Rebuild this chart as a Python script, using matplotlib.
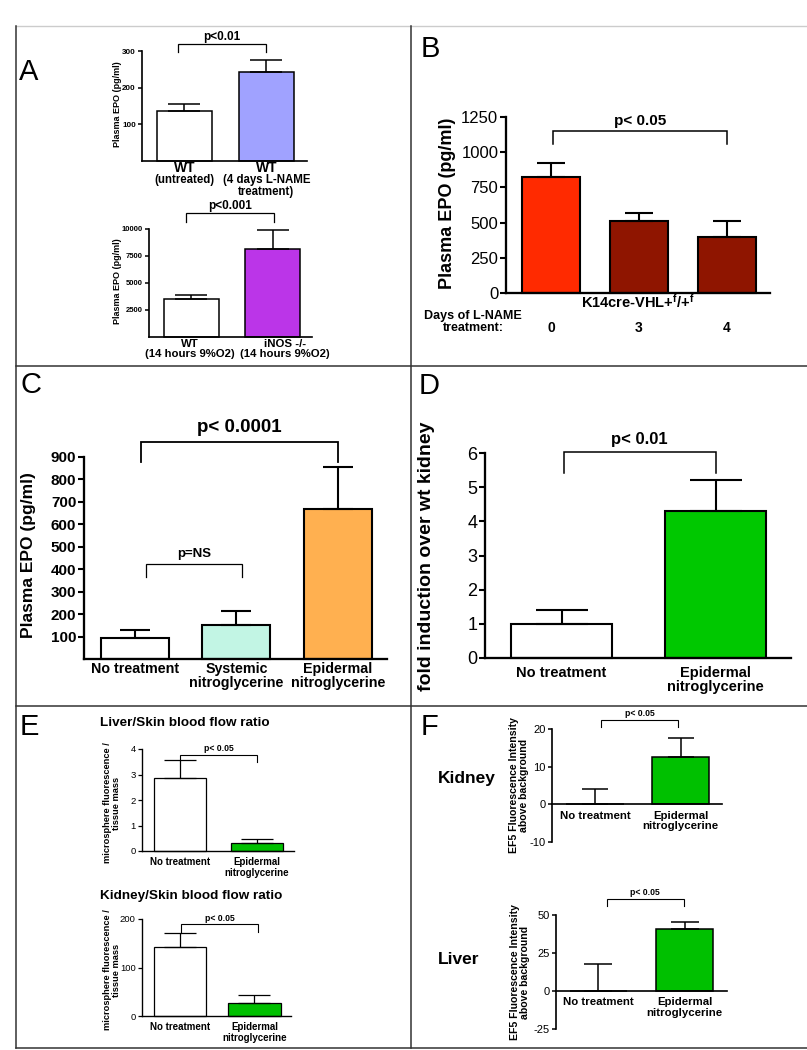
import numpy as np
import matplotlib
matplotlib.use("Agg")
import matplotlib.pyplot as plt
from matplotlib.lines import Line2D
import matplotlib.transforms as mtransforms

plt.rcParams['font.family'] = ['Liberation Sans', 'DejaVu Sans']
plt.rcParams['mathtext.fontset'] = 'custom'
plt.rcParams['mathtext.rm'] = 'Liberation Sans'
plt.rcParams['mathtext.it'] = 'Liberation Sans:italic'
plt.rcParams['mathtext.bf'] = 'Liberation Sans:bold'
plt.rcParams['axes.unicode_minus'] = False

# ---------------- data ----------------
a1_labels = ['WT\n(untreated)', 'WT\n(4 days L-NAME\ntreatment)']
a1_vals = [137, 243]
a1_err = [18, 33]
a1_colors = ['white', '#a0a2ff']

a2_labels = ['WT\n(14 hours 9%O2)', 'iNOS -/-\n(14 hours 9%O2)']
a2_vals = [3480, 8150]
a2_err = [420, 1750]
a2_colors = ['white', '#bb35e8']

b_days = ['0', '3', '4']
b_vals = [825, 510, 400]
b_err = [100, 55, 110]
b_colors = ['#ff2a00', '#8f1500', '#8f1500']

c_labels = ['No treatment', 'Systemic\nnitroglycerine', 'Epidermal\nnitroglycerine']
c_vals = [95, 153, 670]
c_err = [35, 62, 185]
c_colors = ['white', '#c2f5e4', '#ffb050']

d_labels = ['No treatment', 'Epidermal\nnitroglycerine']
d_vals = [1.0, 4.3]
d_err = [0.4, 0.9]
d_colors = ['white', '#00c800']

e_labels = ['No treatment', 'Epidermal\nnitroglycerine']
e1_vals = [2.87, 0.31]
e1_err = [0.70, 0.16]
e2_vals = [142, 27]
e2_err = [29, 16]
e_colors = ['white', '#00c000']

f_labels = ['No treatment', 'Epidermal\nnitroglycerine']
f1_vals = [0, 12.5]
f1_err = [4.0, 5.0]
f2_vals = [0, 40.5]
f2_err = [17.5, 4.8]
f_colors = ['white', '#00c000']

# ---------------- figure ----------------
W, H = 807, 1050
fig = plt.figure(figsize=(W / 100, H / 100), dpi=100)


def add_ax(l, t, r, b):
    ax = fig.add_axes([l / W, 1 - b / H, (r - l) / W, (b - t) / H])
    ax.patch.set_alpha(0)
    return ax


def ftext(px, py, s, **kw):
    return fig.text(px / W, 1 - py / H, s, **kw)


def fline(xs, ys, color='#333333', lw=1.1):
    fig.add_artist(Line2D([x / W for x in xs], [1 - y / H for y in ys],
                          transform=fig.transFigure, color=color, lw=lw))


def bar_panel(ax, vals, errs, colors, width, lw, capsize, xlim, ylim, yticks,
              tick_fs, tick_weight='normal', ticklen=3, labels=None,
              label_fs=8, label_pad=2, label_ls=1.05, xticks=None, zero_spine=False):
    x = np.arange(len(vals))
    if zero_spine:
        ax.spines['bottom'].set_position(('data', 0))
    ax.bar(x, vals, width, color=colors, edgecolor='black', linewidth=lw,
           zorder=2, clip_on=False)
    ax.errorbar(x, vals, yerr=[np.zeros(len(vals)), errs], fmt='none',
                ecolor='black', elinewidth=lw, capsize=capsize, capthick=lw,
                zorder=3, clip_on=False)
    ax.set_xlim(xlim)
    ax.set_ylim(ylim)
    for s in ['top', 'right']:
        ax.spines[s].set_visible(False)
    ax.spines['left'].set_linewidth(lw * 1.1)
    ax.spines['bottom'].set_linewidth(lw * 1.1)
    ax.set_yticks(yticks)
    ax.tick_params(axis='y', length=ticklen, width=lw, labelsize=tick_fs, pad=1.5)
    ax.tick_params(axis='x', length=0, pad=label_pad)
    for lab in ax.get_yticklabels():
        lab.set_fontweight(tick_weight)
    if labels is not None:
        ax.set_xticks(x if xticks is None else xticks)
        ax.set_xticklabels(labels, fontsize=label_fs, fontweight='bold',
                           linespacing=label_ls)
    else:
        ax.set_xticks([])
    return x


def bracket(ax, x1, x2, ytop, y1, y2, text, fs, ty, lw=1.0):
    ax.plot([x1, x1, x2, x2], [y1, ytop, ytop, y2], color='black', lw=lw,
            clip_on=False, solid_joinstyle='miter')
    ax.text((x1 + x2) / 2, ty, text, ha='center', va='center', fontsize=fs,
            fontweight='bold', clip_on=False)


# ---------------- frame ----------------
fline([16, 807], [26, 26], color='#cccccc', lw=1.0)
fline([16, 16], [26, 1048])
fline([411, 411], [26, 1048])
fline([16, 807], [366, 366])
fline([16, 807], [706, 706])
fline([16, 807], [1048, 1048])

# panel letters
for lx, ly, s in [(19, 72, 'A'), (421, 49, 'B'), (20, 385, 'C'), (419, 386, 'D'),
                  (20, 727, 'E'), (421, 727, 'F')]:
    ftext(lx, ly, s, fontsize=21, ha='left', va='center')

# ---------------- A top ----------------
ax = add_ax(142, 51, 307, 161)
ax_x = bar_panel(ax, a1_vals, a1_err, a1_colors, 0.67, 1.1, 11.5, (-0.518, 1.494),
                 (0, 300), [100, 200, 300], 5.8, 'bold', 3)
tr = mtransforms.blended_transform_factory(ax.transData, fig.transFigure)
for xi, lab in zip(ax_x, a1_labels):
    head, rest = lab.split('\n', 1)
    ax.text(xi, 1 - 168 / H, head, transform=tr, fontsize=10, fontweight='bold',
            ha='center', va='center')
    ax.text(xi, 1 - 174 / H, rest, transform=tr, fontsize=8.3, fontweight='bold',
            ha='center', va='top', linespacing=1.05)
bracket(ax, -0.08, 1.0, 320, 296, 296, 'p<0.01', 8.5, 338, lw=0.9)
ftext(117, 104, 'Plasma EPO (pg/ml)', rotation=90, fontsize=6.5,
      fontweight='bold', ha='center', va='center')

# ---------------- A bottom ----------------
ax = add_ax(149, 229, 312, 337)
bar_panel(ax, a2_vals, a2_err, a2_colors, 0.675, 1.1, 11.5, (-0.521, 1.479),
          (0, 10000), [2500, 5000, 7500, 10000], 5.5, 'bold', 3, a2_labels,
          8.2, 1.5, 1.05, xticks=[-0.02, 1.147])
bracket(ax, -0.07, 1.01, 11480, 10650, 10650, 'p<0.001', 8.5, 12150, lw=0.9)
ftext(117, 281, 'Plasma EPO (pg/ml)', rotation=90, fontsize=6.5,
      fontweight='bold', ha='center', va='center')

# ---------------- B ----------------
ax = add_ax(506, 117, 770, 293)
bx = bar_panel(ax, b_vals, b_err, b_colors, 0.66, 1.5, 10.4, (-0.511, 2.49),
               (0, 1250), [0, 250, 500, 750, 1000, 1250], 12, 'normal', 4)
bracket(ax, 0.02, 2.0, 1150, 1057, 1057, 'p< 0.05', 11, 1222, lw=1.1)
ftext(447, 203, 'Plasma EPO (pg/ml)', rotation=90, fontsize=13,
      fontweight='bold', ha='center', va='center')
ftext(638, 302, r'K14cre-VHL+$^{\mathbf{f}}$/+$^{\mathbf{f}}$', fontsize=10.5,
      fontweight='bold', ha='center', va='center')
ftext(473, 322, 'Days of L-NAME\ntreatment:', fontsize=9, fontweight='bold',
      ha='center', va='center', linespacing=1.0)
trans = mtransforms.blended_transform_factory(ax.transData, fig.transFigure)
for xi, d in zip(bx, b_days):
    ax.text(xi, 1 - 328 / H, d, transform=trans, fontsize=10, fontweight='bold',
            ha='center', va='center')

# ---------------- C ----------------
ax = add_ax(84, 457, 387, 659)
bar_panel(ax, c_vals, c_err, c_colors, 0.67, 1.5, 10.8, (-0.502, 2.483),
          (0, 900), list(range(100, 1000, 100)), 11, 'bold', 4, c_labels,
          10.3, 2.5, 1.0)
bracket(ax, 0.06, 2.0, 969, 876, 876, 'p< 0.0001', 13.5, 1030, lw=1.3)
bracket(ax, 0.11, 1.05, 422, 364, 364, 'p=NS', 9.5, 468, lw=0.9)
ftext(28, 555, 'Plasma EPO (pg/ml)', rotation=90, fontsize=12.5,
      fontweight='bold', ha='center', va='center')

# ---------------- D ----------------
ax = add_ax(485, 453, 791, 658)
bar_panel(ax, d_vals, d_err, d_colors, 0.66, 1.5, 18.7, (-0.497, 1.49),
          (0, 6), list(range(0, 7)), 13, 'normal', 4, d_labels, 10.5, 6, 1.0)
bracket(ax, 0.016, 1.0, 6.02, 5.41, 5.41, 'p< 0.01', 12, 6.4, lw=1.1)
ftext(427, 556, 'fold induction over wt kidney', rotation=90, fontsize=14,
      fontweight='bold', ha='center', va='center')

# ---------------- E upper ----------------
ax = add_ax(142, 749, 294, 851)
bar_panel(ax, e1_vals, e1_err, e_colors, 0.675, 0.9, 11.2, (-0.494, 1.48),
          (0, 4), [0, 1, 2, 3, 4], 6.8, 'normal', 3, e_labels, 7, 4.5, 1.05)
bracket(ax, 0.0, 1.0, 3.76, 3.57, 3.49, 'p< 0.05', 6.2, 4.02, lw=0.8)
ftext(100, 723, 'Liver/Skin blood flow ratio', fontsize=9.7, fontweight='bold',
      ha='left', va='center')
ftext(112, 803, 'microsphere fluorescence /\ntissue mass', rotation=90,
      fontsize=6.7, fontweight='bold', ha='center', va='center', linespacing=1.0)

# ---------------- E lower ----------------
ax = add_ax(142, 919, 291, 1016)
bar_panel(ax, e2_vals, e2_err, e_colors, 0.70, 0.9, 11.2, (-0.51, 1.49),
          (0, 200), [0, 100, 200], 6.8, 'normal', 3, e_labels, 7, 4.5, 1.05)
bracket(ax, 0.01, 1.05, 190, 171, 173, 'p< 0.05', 6.2, 201, lw=0.8)
ftext(100, 896, 'Kidney/Skin blood flow ratio', fontsize=9.7, fontweight='bold',
      ha='left', va='center')
ftext(112, 970, 'microsphere fluorescence /\ntissue mass', rotation=90,
      fontsize=6.7, fontweight='bold', ha='center', va='center', linespacing=1.0)

# ---------------- F kidney ----------------
ax = add_ax(552, 729, 722, 842)
bar_panel(ax, f1_vals, f1_err, f_colors, 0.667, 1.1, 9.7, (-0.503, 1.485),
          (-10, 20), [-10, 0, 10, 20], 8, 'normal', 3, f_labels, 8.2, 4.5, 1.05,
          zero_spine=True)
bracket(ax, 0.07, 0.97, 22.5, 20.4, 20.4, 'p< 0.05', 6.2, 24.2, lw=0.8)
ftext(438, 779, 'Kidney', fontsize=12.5, fontweight='bold', ha='left', va='center')
ftext(519, 785, 'EF5 Fluorescence Intensity\nabove background', rotation=90,
      fontsize=7.6, fontweight='bold', ha='center', va='center', linespacing=1.0)

# ---------------- F liver ----------------
ax = add_ax(556, 915, 727, 1029)
bar_panel(ax, f2_vals, f2_err, f_colors, 0.66, 1.1, 10.4, (-0.486, 1.49),
          (-25, 50), [-25, 0, 25, 50], 8, 'normal', 3, f_labels, 8.2, 4.5, 1.05,
          zero_spine=True)
bracket(ax, 0.1, 0.99, 60.5, 55.9, 55.9, 'p< 0.05', 6.2, 64.6, lw=0.8)
ftext(438, 960, 'Liver', fontsize=12.5, fontweight='bold', ha='left', va='center')
ftext(520, 972, 'EF5 Fluorescence Intensity\nabove background', rotation=90,
      fontsize=7.6, fontweight='bold', ha='center', va='center', linespacing=1.0)

fig.savefig('out.png', dpi=100, facecolor='white')
